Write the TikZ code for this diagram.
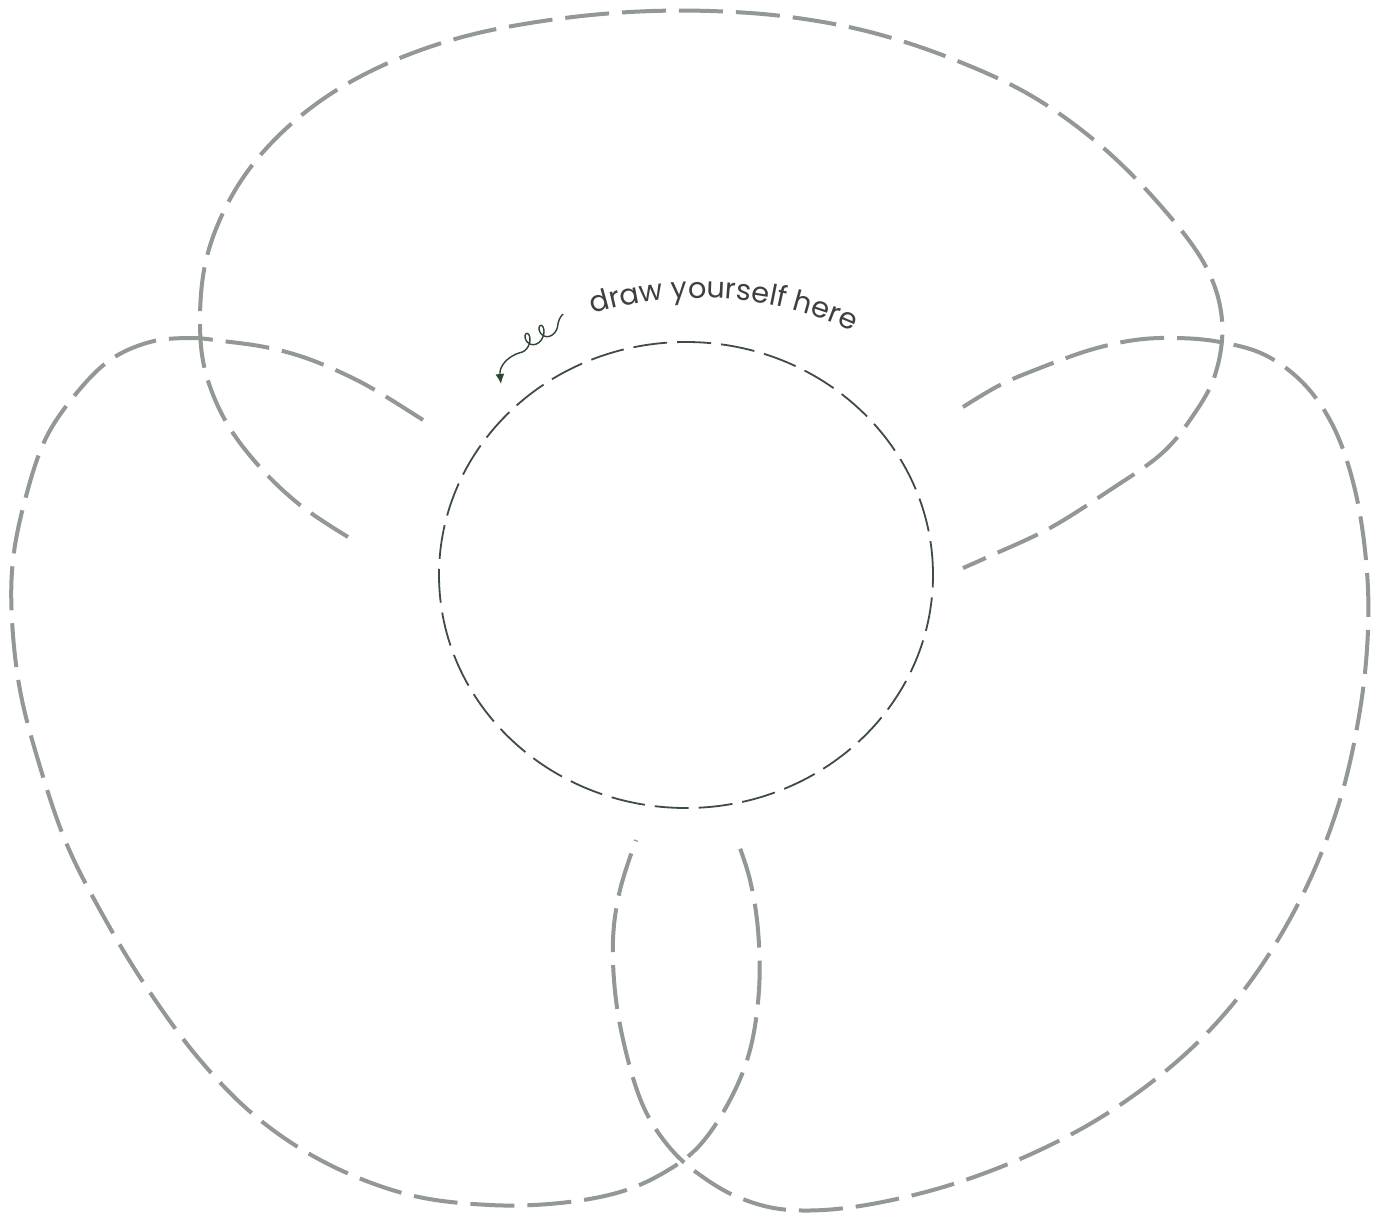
\documentclass[tikz,border=0pt]{standalone}
\usepackage{fontspec}
\setmainfont{Poppins}
\usetikzlibrary{decorations.text,arrows.meta,shapes.geometric}
\definecolor{pencil}{RGB}{146,152,146}
\definecolor{ring}{RGB}{62,76,66}
\definecolor{ink}{RGB}{62,64,62}
\definecolor{curl}{RGB}{45,70,52}
\tikzset{
  petal/.style={draw=pencil, line width=2pt, dash pattern=on 22pt off 6.5pt, line cap=butt},
  ringline/.style={draw=ring, line width=0.9pt, dash pattern=on 17pt off 5pt},
}
\begin{document}
\begin{tikzpicture}[x=0.5pt,y=-0.5pt]
\useasboundingbox[fill=white] (0,0) rectangle (1381,1220);
% top petal
\draw[petal] plot[smooth, tension=0.6] coordinates {(348,537) (300,505) (258,465) (225,420) (205,370) (200,320) (205,265) (222,215) (250,168) (290,125) (340,88) (400,58) (470,35) (550,20) (630,12) (710,11) (790,17) (870,32) (950,58) (1030,95) (1100,145) (1160,205) (1205,265) (1222,320) (1215,375) (1190,420) (1160,455) (1110,490) (1050,528) (990,556) (963,568)};
% left petal
\draw[petal] plot[smooth, tension=0.6] coordinates {(423,420) (375,390) (340,372) (303,357) (265,347) (222,341) (190,338) (150,342) (110,360) (75,395) (45,440) (25,500) (13,560) (12,620) (20,690) (38,760) (65,840) (100,910) (145,985) (200,1060) (260,1120) (330,1165) (410,1195) (490,1205) (560,1203) (620,1192) (665,1172) (700,1145) (730,1100) (750,1050) (759,990) (758,930) (750,880) (737,840)};
% right petal
\draw[petal] plot[smooth, tension=0.6] coordinates {(963,407) (1000,385) (1040,368) (1090,350) (1135,340) (1177,338) (1220,342) (1265,355) (1305,385) (1335,430) (1355,490) (1366,560) (1368,630) (1360,710) (1340,800) (1305,890) (1255,975) (1195,1045) (1120,1105) (1040,1150) (950,1185) (860,1206) (790,1210) (740,1198) (700,1175) (670,1148) (645,1110) (628,1060) (616,1000) (613,940) (620,890) (636,840)};
% central ring
\node[ringline, ellipse, minimum width=247pt, minimum height=233pt, inner sep=0pt] (ring) at (686,575) {};
% curved text
\path[decorate, decoration={text along path, text align=center,
  text={|\fontsize{14.4}{16}\selectfont\color{ink}|draw yourself here}}]
  (536.4,336.1) .. controls (655,277.6) and (795.6,286.9) .. (905.6,360.4);
% curly arrow
\coordinate (cs) at (563,314);
\coordinate (ce) at (501,384);
\draw[curl, line width=0.7pt, -{Latex[length=5pt,width=4.5pt]}]
  (cs) .. controls (560,317) and (558,321) .. (557.5,327)
  -- plot[smooth, domain=0:2.25, samples=90] ({552-14*\x+5.5*cos(360*\x)}, {327+8*\x+7.5*sin(360*\x)})
  .. controls (508,356) and (499,366) .. (ce);
\end{tikzpicture}
\end{document}
